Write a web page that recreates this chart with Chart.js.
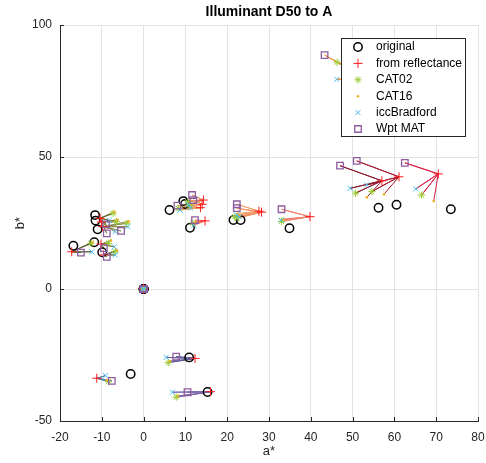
<!DOCTYPE html>
<html>
<head>
<meta charset="utf-8">
<script src="https://cdn.jsdelivr.net/npm/chart.js@4.4.0/dist/chart.umd.min.js"></script>
<style>
  html, body { margin: 0; padding: 0; background: #fff; }
  canvas { display: block; }
</style>
</head>
<body>
<canvas id="labChart" width="486" height="463"></canvas>
<script>
const FONT = '"Liberation Sans", Arial, Helvetica, sans-serif';
const AXIS = '#262626';

// a*, b* per patch: original under D50, then each estimate under A
const origA  = [-11.6,-11.5,-11.0,-16.8,-11.8,-9.9, 6.2, 9.5, 9.9,11.1,21.5,23.2,34.9,56.2,60.5,73.5,55.0,10.9,-3.1,15.3,0,0,0,0];
const origB  = [ 28.0, 25.9, 22.6, 16.4, 17.7,13.9,29.9,33.3,32.2,23.2,26.1,26.1,23.0,30.8,31.9,30.2,70.0,-25.9,-32.2,-39.0,0,0,0,0];
const reflA  = [-10.4,-10.1,-9.8,-17.2,-10.2,-9.6,13.6,14.3,14.0,14.7,27.6,28.2,39.8,57.0,61.1,70.5,53.0,12.3,-11.2,16.0,0,0,0,0];
const reflB  = [ 26.8, 25.4, 23.6, 14.1, 17.0,12.9,30.8,33.7,32.1,25.8,29.5,29.1,27.4,41.0,42.5,43.6,80.0,-26.3,-33.8,-38.9,0.2,0,0,0];
const cat02A = [-7.3,-6.5,-4.0,-12.6,-8.4,-6.8, 8.3,10.6,11.0,11.8,21.8,22.4,33.0,50.7,54.6,66.5,46.3,5.9,-8.4,7.8,0,0,0,0];
const cat02B = [28.7,25.5,24.9,17.3,17.3,14.1,30.5,33.0,31.5,25.0,27.4,26.9,25.6,36.3,36.9,35.6,85.9,-27.9,-35.1,-41.0,0,0,0,0];
const cat16A = [-7.0,-6.2,-3.6,-12.2,-7.8,-6.4, 9.0,11.2,11.6,12.4,22.5,23.0,33.4,53.4,57.5,69.4,48.5,6.3,-8.8,8.2,0,0,0,0];
const cat16B = [29.2,26.2,25.6,17.8,18.4,14.8,30.9,33.5,31.9,25.4,28.6,27.8,26.5,34.7,35.9,33.3,84.0,-27.3,-34.6,-40.5,0,0,0,0];
const bradA  = [-8.2,-6.8,-3.8,-12.4,-7.0,-6.8, 8.7,10.8,11.2,12.0,22.3,22.9,32.9,49.4,53.4,65.1,46.2,5.4,-9.1,6.9,0,0,0,0];
const bradB  = [26.0,21.7,23.6,14.1,16.0,12.9,29.9,32.0,30.7,24.2,28.0,27.3,26.1,38.1,39.4,37.9,79.4,-25.9,-32.8,-39.1,0,0,0,0];
const wptA   = [-9.0,-8.8,-5.4,-15.0,-9.5,-8.8, 8.1,11.6,11.9,12.3,22.3,22.3,33.0,47.0,51.0,62.5,43.3,7.8,-7.6,10.5,0,0,0,0];
const wptB   = [24.5,21.1,22.0,13.8,15.5,12.2,31.6,35.6,33.7,26.1,32.1,30.6,30.2,46.7,48.5,47.8,88.6,-25.6,-34.8,-39.1,0,0,0,0];

// colour of each patch, used for the spokes from the reflectance estimate
const lineColors = ['#6e6a2e','#807a3a','#8c8a4e','#5c6a3c','#76803e','#66783e',
                    '#e8a060','#d8906a','#f0a070','#f07058','#f4a070','#f09060','#f08070',
                    '#8c1a2e','#a8182e','#d81e44','#f08a30',
                    '#5e5a98','#5a82a8','#7a68ac',
                    '#808080','#909090','#707070','#a0a0a0'];

const seriesNames = ['original','from reflectance','CAT02','CAT16','iccBradford','Wpt MAT'];

const markers = [
  { a: origA,  b: origB,  style: 'circle',   radius: 4.2, color: '#000000', width: 1.5, fill: 'rgba(0,0,0,0)', order: 6 },
  { a: reflA,  b: reflB,  style: 'cross',    radius: 4.5, color: '#ff1a1a', width: 1,   fill: 'rgba(0,0,0,0)', order: 5 },
  { a: cat02A, b: cat02B, style: 'star',     radius: 3.6, color: '#9acd32', width: 1,   fill: 'rgba(0,0,0,0)', order: 4 },
  { a: cat16A, b: cat16B, style: 'circle',   radius: 1.3, color: '#edb120', width: 0,   fill: '#edb120',       order: 3 },
  { a: bradA,  b: bradB,  style: 'crossRot', radius: 3.6, color: '#4dbeee', width: 1,   fill: 'rgba(0,0,0,0)', order: 2 },
  { a: wptA,   b: wptB,   style: 'rect',     radius: 4.6, color: '#8e5c9e', width: 1.3, fill: 'rgba(0,0,0,0)', order: 1 }
];

const pt = (a, b, i) => ({ x: a[i], y: b[i] });

const spokes = origA.map((_, i) => ({
  label: 'spoke' + i,
  data: [pt(reflA, reflB, i), pt(wptA, wptB, i), pt(reflA, reflB, i), pt(bradA, bradB, i),
         pt(reflA, reflB, i), pt(cat02A, cat02B, i), pt(reflA, reflB, i), pt(cat16A, cat16B, i)],
  showLine: true,
  borderColor: lineColors[i],
  borderWidth: 1,
  borderJoinStyle: 'round',
  pointRadius: 0,
  order: 10
}));

const pointSets = markers.map((m, k) => ({
  label: seriesNames[k],
  data: m.a.map((_, i) => pt(m.a, m.b, i)),
  pointStyle: m.style,
  pointRadius: m.radius,
  borderColor: m.color,
  backgroundColor: m.fill,
  borderWidth: m.width,
  showLine: false,
  order: m.order
}));

const titleText = {
  id: 'titleText',
  afterDraw(chart) {
    const { ctx, chartArea } = chart;
    ctx.save();
    ctx.font = 'bold 14px ' + FONT;
    ctx.fillStyle = '#000';
    ctx.textAlign = 'center';
    ctx.textBaseline = 'middle';
    ctx.fillText('Illuminant D50 to A', (chartArea.left + chartArea.right) / 2, 12);
    ctx.restore();
  }
};

// short tick marks pointing into the plot on the left and bottom axes
const tickMarks = {
  id: 'tickMarks',
  afterDraw(chart) {
    const { ctx, chartArea: { left, bottom }, scales: { x, y } } = chart;
    ctx.save();
    ctx.strokeStyle = AXIS;
    ctx.lineWidth = 1;
    ctx.beginPath();
    x.ticks.forEach(t => {
      const px = Math.round(x.getPixelForValue(t.value)) + 0.5;
      ctx.moveTo(px, bottom); ctx.lineTo(px, bottom - 4);
    });
    y.ticks.forEach(t => {
      const py = Math.round(y.getPixelForValue(t.value)) + 0.5;
      ctx.moveTo(left, py); ctx.lineTo(left + 4, py);
    });
    ctx.stroke();
    ctx.restore();
  }
};

const boxLegend = {
  id: 'boxLegend',
  afterDraw(chart) {
    const ctx = chart.ctx;
    const x0 = 341.5, y0 = 38.5, w = 124, h = 98;
    ctx.save();
    ctx.fillStyle = '#fff';
    ctx.fillRect(x0, y0, w, h);
    ctx.strokeStyle = AXIS;
    ctx.lineWidth = 1;
    ctx.strokeRect(x0, y0, w, h);
    ctx.font = '12px ' + FONT;
    ctx.textBaseline = 'middle';
    markers.forEach((m, i) => {
      const cy = 47 + i * 16.4;
      ctx.strokeStyle = m.color;
      ctx.fillStyle = m.fill;
      ctx.lineWidth = m.width;
      Chart.helpers.drawPoint(ctx, { pointStyle: m.style, radius: m.radius, borderWidth: m.width, rotation: 0 }, 358, cy);
      ctx.fillStyle = '#000';
      ctx.fillText(seriesNames[i], 376, cy);
    });
    ctx.restore();
  }
};

new Chart(document.getElementById('labChart'), {
  type: 'scatter',
  data: { datasets: [...spokes, ...pointSets] },
  options: {
    responsive: false,
    animation: false,
    events: [],
    layout: { padding: { left: 0, right: 8, top: 25, bottom: 0 } },
    plugins: { legend: { display: false }, tooltip: { enabled: false } },
    scales: {
      x: {
        type: 'linear', min: -20, max: 80,
        ticks: { stepSize: 10, color: AXIS, font: { family: FONT, size: 12 }, padding: 9, maxRotation: 0 },
        grid: { color: '#e3e3e3', drawTicks: false, lineWidth: 1 },
        border: { color: AXIS, width: 1 },
        title: { display: true, text: 'a*', color: AXIS, font: { family: FONT, size: 13 }, padding: { top: 0, bottom: 4 } },
        afterFit(s) { s.height = 42; s.paddingLeft = 0; s.paddingRight = 0; }
      },
      y: {
        type: 'linear', min: -50, max: 100,
        ticks: { stepSize: 50, color: AXIS, font: { family: FONT, size: 12 }, padding: 8 },
        grid: { color: '#e3e3e3', drawTicks: false, lineWidth: 1 },
        border: { color: AXIS, width: 1 },
        title: { display: true, text: 'b*', color: AXIS, font: { family: FONT, size: 13 }, padding: { top: 13, bottom: 0 } },
        afterFit(s) { s.width = 60; s.paddingTop = 0; s.paddingBottom = 0; }
      }
    }
  },
  plugins: [titleText, tickMarks, boxLegend]
});
</script>
</body>
</html>
